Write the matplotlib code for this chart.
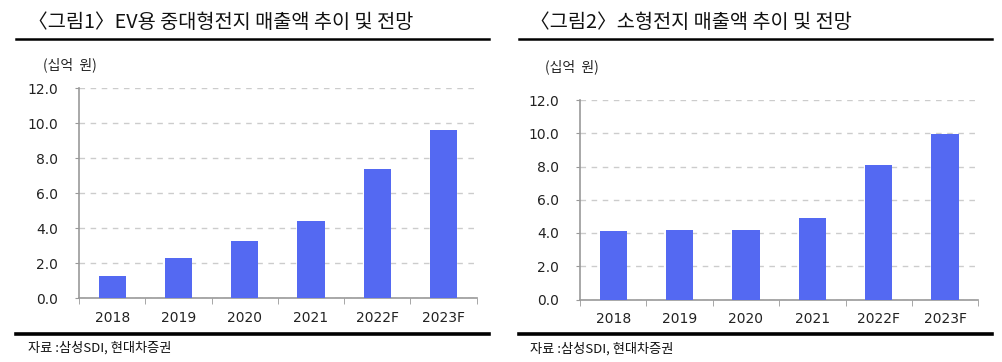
import matplotlib
matplotlib.use("Agg")
import matplotlib.pyplot as plt
import numpy as np
from matplotlib.lines import Line2D

plt.rcParams['font.family'] = ['Noto Sans CJK KR', 'DejaVu Sans']

years = ["2018", "2019", "2020", "2021", "2022F", "2023F"]
ev_sales = [1.3, 2.3, 3.3, 4.4, 7.4, 9.6]
small_sales = [4.1, 4.2, 4.2, 4.9, 8.1, 9.95]

titles = ["〈그림1〉EV용 중대형전지 매출액 추이 및 전망", "〈그림2〉소형전지 매출액 추이 및 전망"]
unit_label = "(십억  원)"
source_label = "자료 :삼성SDI, 현대차증권"

BAR_COLOR = "#5469F2"
W, H = 1003, 362

fig = plt.figure(figsize=(W / 100, H / 100), dpi=100)


def px(x, y):
    # pixel coords (top-left origin) -> figure fraction
    return x / W, 1 - y / H


def draw_panel(rect, values, title, tx, line_x, title_y, line_y, unit_xy, bottom_y, src_y):
    ax = fig.add_axes(rect)
    x = np.arange(len(values))
    ax.bar(x, values, width=0.41, color=BAR_COLOR, zorder=3)
    ax.set_xlim(-0.5, len(values) - 0.5)
    ax.set_ylim(0, 12)
    ax.set_yticks(np.arange(0, 12.1, 2))
    ax.set_yticklabels([f"{v:.1f}" for v in np.arange(0, 12.1, 2)],
                       family="DejaVu Sans", fontsize=10, color="#222222")
    ax.set_xticks(x)
    ax.set_xticklabels(years, family="DejaVu Sans", fontsize=10, color="#222222")
    ax.set_xticks(np.arange(-0.5, len(values), 1), minor=True)
    ax.tick_params(axis="x", which="major", length=0, pad=9)
    ax.tick_params(axis="x", which="minor", length=4, color="#999999", direction="out")
    ax.tick_params(axis="y", length=3, color="#999999", direction="out", pad=12)
    for s in ["top", "right"]:
        ax.spines[s].set_visible(False)
    for s in ["left", "bottom"]:
        ax.spines[s].set_color("#999999")
        ax.spines[s].set_linewidth(1.2)
    ax.yaxis.grid(True, linestyle=(0, (4, 4)), color="#CCCCCC", linewidth=1, zorder=0)
    ax.set_axisbelow(True)

    # title, rules, unit and source
    fig.text(*px(tx, title_y), title, fontsize=14.2, va="center", ha="left", color="#111111")
    fig.add_artist(Line2D([line_x[0] / W, line_x[1] / W], [1 - line_y / H] * 2,
                          color="black", linewidth=1.8))
    fig.add_artist(Line2D([line_x[0] / W, line_x[1] / W], [1 - bottom_y / H] * 2,
                          color="black", linewidth=2.6))
    fig.text(*px(*unit_xy), unit_label, fontsize=10, va="center", ha="left", color="#222222")
    fig.text(*px(tx, src_y), source_label, fontsize=9.5, va="center", ha="left", color="#111111")
    return ax


draw_panel([79 / W, 1 - 298.3 / H, (476.7 - 79) / W, (298.3 - 88.3) / H],
           ev_sales, titles[0], 28, (16, 489), 22, 38.5, (43, 65), 333.5, 348)
draw_panel([580 / W, 1 - 299.5 / H, (978.3 - 580) / W, (299.5 - 100) / H],
           small_sales, titles[1], 530, (519, 992), 22, 38.5, (545, 67), 334, 349)

fig.savefig("out.png", dpi=100)
